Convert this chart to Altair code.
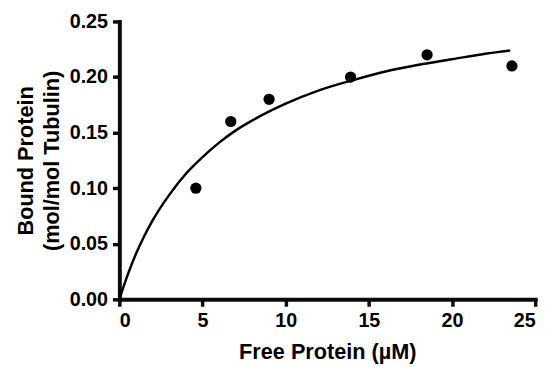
import altair as alt
import pandas as pd

# Measured data points
free_protein = [4.6, 6.7, 9.0, 13.9, 18.5, 23.6]
bound_protein = [0.100, 0.160, 0.180, 0.200, 0.220, 0.210]

# Fitted curve
fit_x = [0, 0.5, 1, 1.5, 2, 3, 4, 5, 6, 7, 8, 10, 12, 14, 16, 18, 20, 22, 23.5]
fit_y = [0.0, 0.022, 0.041, 0.057, 0.071, 0.094, 0.113, 0.128, 0.141, 0.152,
         0.161, 0.176, 0.188, 0.197, 0.205, 0.211, 0.216, 0.221, 0.224]

x_ticks = [0, 5, 10, 15, 20, 25]
y_ticks = [0.0, 0.05, 0.10, 0.15, 0.20, 0.25]

pts = pd.DataFrame({"x": free_protein, "y": bound_protein})
fit = pd.DataFrame({"x": fit_x, "y": fit_y})

FONT = "Liberation Sans"

x_enc = alt.X("x:Q", scale=alt.Scale(domain=[0, 25], nice=False),
              axis=alt.Axis(values=x_ticks, title="Free Protein (µM)", format="d",
                            titlePadding=11))
y_enc = alt.Y("y:Q", scale=alt.Scale(domain=[0, 0.25], nice=False),
              axis=alt.Axis(values=y_ticks, title=["Bound Protein", "(mol/mol Tubulin)"],
                            format=".2f", titlePadding=6, titleLineHeight=26))

line = alt.Chart(fit).mark_line(color="black", strokeWidth=2.5, interpolate="monotone").encode(
    x=x_enc, y=y_enc
)
points = alt.Chart(pts).mark_point(filled=True, color="black", size=130, opacity=1).encode(
    x="x:Q", y="y:Q"
)

chart = (line + points).properties(
    width=422, height=282,
    autosize=alt.AutoSizeParams(type="none"),
    padding={"left": 113, "top": 11, "right": 14, "bottom": 66},
).configure_view(stroke=None).configure_axis(
    grid=False,
    domainColor="#0a0a0a", domainWidth=4, domainOpacity=1, domainCap="square",
    tickColor="#0a0a0a", tickWidth=3.5, tickSize=7, tickOpacity=1,
    labelFont=FONT, labelFontSize=20, labelFontWeight="bold", labelColor="#000000",
    labelPadding=5,
    titleFont=FONT, titleFontSize=22, titleFontWeight="bold", titleColor="#000000",
)

chart.save("out.html", embed_options={"renderer": "svg", "actions": False})
